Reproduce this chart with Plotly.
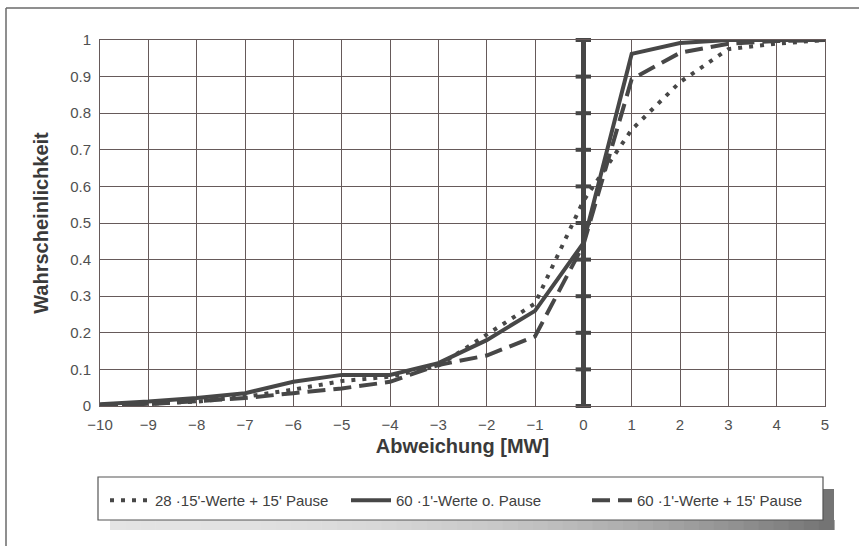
import plotly.graph_objects as go

# ---------------- data ----------------
x_vals = [-10, -9, -8, -7, -6, -5, -4, -3, -2, -1, 0, 1, 2, 3, 4, 5]

s_dotted = [0.003, 0.006, 0.012, 0.025, 0.045, 0.068, 0.08, 0.11, 0.195, 0.28, 0.56, 0.755, 0.885, 0.975, 0.99, 1.0]
s_solid = [0.005, 0.012, 0.022, 0.035, 0.066, 0.085, 0.085, 0.117, 0.18, 0.26, 0.445, 0.962, 0.992, 1.0, 1.0, 1.0]
s_dashed = [0.003, 0.005, 0.013, 0.022, 0.035, 0.048, 0.066, 0.112, 0.138, 0.19, 0.44, 0.893, 0.965, 0.99, 0.997, 1.0]

names = ["28 ·15'-Werte + 15' Pause", "60 ·1'-Werte o. Pause", "60 ·1'-Werte + 15' Pause"]

x_ticks = list(range(-10, 6))
y_ticks = [0, 0.1, 0.2, 0.3, 0.4, 0.5, 0.6, 0.7, 0.8, 0.9, 1]
y_ticklabels = ["0", "0.1", "0.2", "0.3", "0.4", "0.5", "0.6", "0.7", "0.8", "0.9", "1"]

x_title = "Abweichung [MW]"
y_title = "Wahrscheinlichkeit"

# ---------------- layout geometry (pixels) ----------------
W, H = 859, 546
PL, PR, PT, PB = 100, 825, 40, 406  # plot area
pw, ph = PR - PL, PB - PT


def px(x):
    return (x - PL) / pw


def py(y):
    return (PB - y) / ph


LINE = "#474747"
GRID = "#665a5a"
TXT = "#505050"
FONT = "Liberation Sans, Arial, sans-serif"

fig = go.Figure()

styles = [
    dict(dash="4px,7px", width=4),
    dict(dash="solid", width=4),
    dict(dash="18px,8px", width=4),
]
for yv, nm, st in zip([s_dotted, s_solid, s_dashed], names, styles):
    fig.add_trace(go.Scatter(
        x=x_vals, y=yv, name=nm, mode="lines",
        line=dict(color=LINE, width=st["width"], dash=st["dash"]),
        hoverinfo="skip",
    ))

# tick marks on the zero axis
fig.add_trace(go.Scatter(
    x=[0] * len(y_ticks), y=y_ticks, mode="markers", showlegend=False,
    marker=dict(symbol="line-ew", size=11, line=dict(color=LINE, width=4)),
    hoverinfo="skip", cliponaxis=False,
))

shapes = []
# outer frame (left and top edges)
shapes.append(dict(type="line", xref="paper", yref="paper",
                   x0=px(6), x1=px(6), y0=py(8), y1=py(560),
                   line=dict(color="#6a6a6a", width=1.5)))
shapes.append(dict(type="line", xref="paper", yref="paper",
                   x0=px(6), x1=px(880), y0=py(8), y1=py(8),
                   line=dict(color="#6a6a6a", width=1.5)))

# legend shadow as gradient strips
n = 48
x_start, x_end = 110, 834
for i in range(n):
    a = x_start + (x_end - x_start) * i / n
    b = x_start + (x_end - x_start) * (i + 1) / n
    g = int(228 - 112 * (i / (n - 1)) ** 2.2)
    col = f"rgb({g},{g},{g})"
    shapes.append(dict(type="rect", xref="paper", yref="paper",
                       x0=px(a), x1=px(b + 0.6), y0=py(520), y1=py(530),
                       fillcolor=col, line=dict(width=0), layer="below"))
shapes.append(dict(type="rect", xref="paper", yref="paper",
                   x0=px(823), x1=px(834), y0=py(489), y1=py(530),
                   fillcolor="rgb(116,116,116)", line=dict(width=0), layer="below"))
# legend box
shapes.append(dict(type="rect", xref="paper", yref="paper",
                   x0=px(98), x1=px(823), y0=py(477), y1=py(520),
                   fillcolor="white", line=dict(color="#555555", width=1.2), layer="below"))

fig.update_layout(
    width=W, height=H,
    margin=dict(l=PL, r=W - PR, t=PT, b=H - PB),
    paper_bgcolor="white", plot_bgcolor="white",
    font=dict(family=FONT, color=TXT, size=15),
    shapes=shapes,
    showlegend=True,
    legend=dict(
        orientation="h", x=px(105), xanchor="left", y=py(484), yanchor="top",
        bgcolor="rgba(0,0,0,0)", borderwidth=0,
        entrywidth=186, entrywidthmode="pixels", itemwidth=40,
        font=dict(family=FONT, size=15, color="#404040"),
        traceorder="normal",
    ),
    xaxis=dict(
        range=[-10, 5], tickvals=x_ticks, showgrid=True, gridcolor=GRID, gridwidth=1,
        zeroline=True, zerolinecolor=LINE, zerolinewidth=5,
        showline=True, linecolor=GRID, linewidth=1, mirror=True,
        ticks="", ticklabelstandoff=5, tickfont=dict(size=15, color=TXT),
        title=dict(text=f"<b>{x_title}</b>", font=dict(size=20, color="#3a3a3a"), standoff=6),
        fixedrange=True,
    ),
    yaxis=dict(
        range=[0, 1], tickvals=y_ticks, ticktext=y_ticklabels, showgrid=True,
        gridcolor=GRID, gridwidth=1, zeroline=False,
        showline=True, linecolor=GRID, linewidth=1, mirror=True,
        ticks="", ticklabelstandoff=5, tickfont=dict(size=15, color=TXT),
        title=dict(text=f"<b>{y_title}</b>", font=dict(size=20, color="#3a3a3a"), standoff=16),
        fixedrange=True,
    ),
)

fig.write_html("out.html")
